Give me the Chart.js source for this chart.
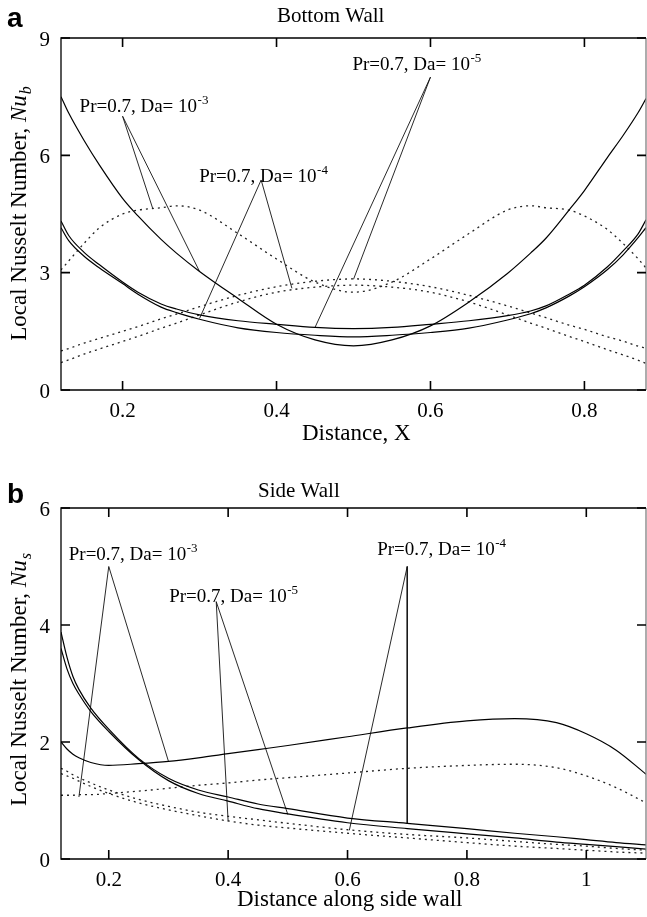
<!DOCTYPE html>
<html>
<head>
<meta charset="utf-8">
<script src="https://cdn.jsdelivr.net/npm/chart.js@4.4.1/dist/chart.umd.min.js"></script>
<style>
  html, body { margin: 0; padding: 0; background: #fff; }
  canvas { display: block; }
</style>
</head>
<body>
<canvas id="bottomWallChart" width="647" height="458"></canvas>
<canvas id="sideWallChart" width="647" height="459"></canvas>
<script>
// ---- panel a: bottom wall ----
const bottomX = [0.12, 0.13, 0.15, 0.17, 0.2, 0.22, 0.25, 0.27, 0.3, 0.35, 0.4, 0.45, 0.5,
                 0.55, 0.6, 0.65, 0.7, 0.73, 0.75, 0.78, 0.8, 0.83, 0.85, 0.87, 0.88];
const bottomDa3Solid = [7.5, 7.08, 6.38, 5.75, 4.9, 4.45, 3.85, 3.5, 3.03, 2.34, 1.68, 1.28, 1.13,
                        1.28, 1.64, 2.25, 2.98, 3.5, 3.88, 4.6, 5.1, 5.95, 6.5, 7.1, 7.45];
const bottomDa4Solid = [4.15, 3.82, 3.42, 3.12, 2.72, 2.45, 2.12, 1.98, 1.81, 1.59, 1.47, 1.4, 1.36,
                        1.4, 1.47, 1.58, 1.79, 1.95, 2.1, 2.4, 2.64, 3.08, 3.45, 3.9, 4.15];
const bottomDa5Solid = [4.32, 3.95, 3.52, 3.2, 2.76, 2.5, 2.2, 2.07, 1.92, 1.77, 1.68, 1.6, 1.57,
                        1.6, 1.68, 1.77, 1.9, 2.02, 2.15, 2.45, 2.68, 3.15, 3.55, 4.0, 4.35];
const bottomDa3Dash = [3.07, 3.3, 3.75, 4.15, 4.5, 4.6, 4.66, 4.71, 4.6, 4.0, 3.35, 2.76, 2.5,
                       2.76, 3.35, 4.0, 4.6, 4.71, 4.66, 4.6, 4.45, 4.1, 3.75, 3.35, 3.12];
const bottomDa4Dash = [0.7, 0.77, 0.92, 1.05, 1.24, 1.37, 1.58, 1.71, 1.92, 2.25, 2.5, 2.63, 2.68,
                       2.63, 2.5, 2.25, 1.92, 1.71, 1.58, 1.37, 1.24, 1.03, 0.9, 0.76, 0.68];
const bottomDa5Dash = [1.0, 1.06, 1.2, 1.32, 1.5, 1.62, 1.82, 1.94, 2.13, 2.42, 2.64, 2.78, 2.84,
                       2.78, 2.64, 2.42, 2.15, 1.97, 1.85, 1.66, 1.55, 1.36, 1.25, 1.12, 1.07];
const bottomXTicks = [0.2, 0.4, 0.6, 0.8];
const bottomYTicks = [0, 3, 6, 9];
// label leaders: end on curve, peak under the label, end on curve
const bottomLeaderDa3X = [0.239, 0.2, 0.3];
const bottomLeaderDa3Y = [4.65, 7.0, 3.03];
const bottomLeaderDa4X = [0.3, 0.38, 0.42];
const bottomLeaderDa4Y = [1.83, 5.37, 2.6];
const bottomLeaderDa5X = [0.45, 0.6, 0.5];
const bottomLeaderDa5Y = [1.6, 8.0, 2.83];

// ---- panel b: side wall ----
const sideX = [0.12, 0.13, 0.14, 0.15, 0.17, 0.2, 0.25, 0.3, 0.35, 0.4, 0.45, 0.5,
               0.6, 0.7, 0.8, 0.88, 0.95, 1.0, 1.05, 1.1];
const sideDa3Solid = [2.0, 1.88, 1.79, 1.73, 1.65, 1.6, 1.63, 1.67, 1.73, 1.8, 1.87, 1.94,
                      2.09, 2.24, 2.36, 2.4, 2.33, 2.14, 1.86, 1.45];
const sideDa4Solid = [3.88, 3.45, 3.12, 2.9, 2.58, 2.22, 1.72, 1.38, 1.18, 1.06, 0.94, 0.86,
                      0.7, 0.61, 0.52, 0.44, 0.38, 0.33, 0.28, 0.24];
const sideDa5Solid = [3.6, 3.25, 3.0, 2.82, 2.52, 2.18, 1.7, 1.34, 1.12, 0.99, 0.86, 0.77,
                      0.62, 0.52, 0.43, 0.36, 0.29, 0.25, 0.21, 0.17];
const sideDa3Dash = [1.09, 1.09, 1.09, 1.1, 1.1, 1.12, 1.16, 1.21, 1.26, 1.3, 1.35, 1.39,
                     1.47, 1.55, 1.6, 1.62, 1.56, 1.42, 1.22, 0.96];
const sideDa4Dash = [1.55, 1.5, 1.44, 1.39, 1.3, 1.18, 1.02, 0.9, 0.8, 0.73, 0.67, 0.61,
                     0.5, 0.42, 0.36, 0.3, 0.25, 0.22, 0.18, 0.15];
const sideDa5Dash = [1.46, 1.42, 1.38, 1.33, 1.24, 1.12, 0.96, 0.84, 0.74, 0.65, 0.58, 0.53,
                     0.44, 0.36, 0.28, 0.22, 0.18, 0.15, 0.12, 0.1];
const sideXTicks = [0.2, 0.4, 0.6, 0.8, 1];
const sideYTicks = [0, 2, 4, 6];
const sideLeaderDa3X = [0.15, 0.2, 0.3];
const sideLeaderDa3Y = [1.06, 5.0, 1.67];
const sideLeaderDa5X = [0.4, 0.38, 0.5];
const sideLeaderDa5Y = [0.64, 4.4, 0.76];
const sideLeaderDa4X = [0.603, 0.7, 0.7];
const sideLeaderDa4Y = [0.49, 5.0, 0.61];

const SERIF = '"Liberation Serif", "Times New Roman", serif';

function toPoints(xs, ys) {
  return xs.map(function (x, i) { return { x: x, y: ys[i] }; });
}

function curve(xs, ys, dashed) {
  return {
    data: toPoints(xs, ys),
    borderColor: dashed ? '#222' : '#000',
    borderWidth: dashed ? 1.3 : 1.2,
    borderDash: dashed ? [2, 4] : [],
    pointRadius: 0,
    cubicInterpolationMode: 'monotone',
    fill: false
  };
}

function leader(xs, ys, exponent, dx, dy) {
  return {
    data: toPoints(xs, ys),
    borderColor: '#111',
    borderWidth: 0.9,
    pointRadius: 0,
    tension: 0,
    fill: false,
    labelExp: exponent,
    labelDx: dx,
    labelDy: dy
  };
}

function drawSuperLabel(ctx, x, y, base, exp) {
  ctx.font = '19px ' + SERIF;
  ctx.textAlign = 'left';
  ctx.textBaseline = 'alphabetic';
  ctx.fillText(base, x, y);
  const w = ctx.measureText(base).width;
  ctx.font = '13px ' + SERIF;
  ctx.fillText(exp, x + w + 0.5, y - 8);
}

const paperFrame = {
  id: 'paperFrame',
  afterDraw(chart, args, opts) {
    const ctx = chart.ctx;
    const area = chart.chartArea;
    const xs = chart.scales.x;
    const ys = chart.scales.y;
    ctx.save();

    // frame
    ctx.lineWidth = 1.3;
    ctx.strokeStyle = '#000';
    ctx.beginPath();
    ctx.moveTo(area.right, area.top);
    ctx.lineTo(area.left, area.top);
    ctx.lineTo(area.left, area.bottom);
    ctx.lineTo(area.right, area.bottom);
    ctx.stroke();
    ctx.strokeStyle = '#808080';
    ctx.beginPath();
    ctx.moveTo(area.right, area.top);
    ctx.lineTo(area.right, area.bottom);
    ctx.stroke();

    // inward ticks
    ctx.strokeStyle = '#000';
    ctx.lineWidth = 1.6;
    const tl = 9;
    xs.ticks.forEach(function (t) {
      const px = xs.getPixelForValue(t.value);
      ctx.beginPath();
      ctx.moveTo(px, area.bottom); ctx.lineTo(px, area.bottom - tl);
      ctx.moveTo(px, area.top); ctx.lineTo(px, area.top + tl);
      ctx.stroke();
    });
    ys.ticks.forEach(function (t) {
      const py = ys.getPixelForValue(t.value);
      ctx.beginPath();
      ctx.moveTo(area.left, py); ctx.lineTo(area.left + tl, py);
      ctx.moveTo(area.right, py); ctx.lineTo(area.right - tl, py);
      ctx.stroke();
    });

    // tick labels
    ctx.fillStyle = '#000';
    ctx.font = '21px ' + SERIF;
    ctx.textAlign = 'center';
    ctx.textBaseline = 'alphabetic';
    xs.ticks.forEach(function (t) {
      ctx.fillText(String(t.value), xs.getPixelForValue(t.value), area.bottom + 26.5);
    });
    ctx.textAlign = 'right';
    ctx.textBaseline = 'middle';
    ys.ticks.forEach(function (t) {
      ctx.fillText(String(t.value), 50, ys.getPixelForValue(t.value) + 2);
    });

    // panel letter and title
    ctx.textBaseline = 'alphabetic';
    ctx.textAlign = 'left';
    ctx.font = 'bold 28px "Liberation Sans", Arial, sans-serif';
    ctx.fillText(opts.letter, 7, opts.letterY);
    ctx.font = '21px ' + SERIF;
    ctx.fillText(opts.title, opts.titleX, opts.titleY);

    // x title
    ctx.font = '23px ' + SERIF;
    ctx.fillText(opts.xTitle, opts.xTitleX, opts.xTitleY);

    // y title, rotated, with italic Nu and subscript
    ctx.save();
    ctx.translate(26, opts.yTitleY);
    ctx.rotate(-Math.PI / 2);
    const main = 'Local Nusselt Number, ';
    ctx.font = '23px ' + SERIF;
    const wMain = ctx.measureText(main).width;
    ctx.font = 'italic 23px ' + SERIF;
    const wNu = ctx.measureText('Nu').width;
    ctx.font = 'italic 16px ' + SERIF;
    const wSub = ctx.measureText(opts.ySub).width;
    let x0 = -(wMain + wNu + wSub) / 2;
    ctx.font = '23px ' + SERIF;
    ctx.fillText(main, x0, 0);
    ctx.font = 'italic 23px ' + SERIF;
    ctx.fillText('Nu', x0 + wMain, 0);
    ctx.font = 'italic 16px ' + SERIF;
    ctx.fillText(opts.ySub, x0 + wMain + wNu + 1, 5);
    ctx.restore();

    // curve labels, anchored on the peak of each leader
    chart.data.datasets.forEach(function (ds) {
      if (!ds.labelExp) return;
      const peak = ds.data[1];
      const px = xs.getPixelForValue(peak.x);
      const py = ys.getPixelForValue(peak.y);
      drawSuperLabel(ctx, px + ds.labelDx, py + ds.labelDy, 'Pr=0.7, Da= 10', ds.labelExp);
    });

    ctx.restore();
  }
};

function makeOptions(xMin, xMax, yMax, xTicks, yTicks, padTop, axisHeight, frame) {
  return {
    responsive: false,
    animation: false,
    devicePixelRatio: 1,
    layout: { padding: { top: padTop, right: 1, left: 0, bottom: 0 } },
    plugins: {
      legend: { display: false },
      tooltip: { enabled: false },
      paperFrame: frame
    },
    scales: {
      x: {
        type: 'linear',
        min: xMin,
        max: xMax,
        grid: { display: false },
        border: { display: false },
        ticks: { display: false },
        afterBuildTicks(scale) { scale.ticks = xTicks.map(function (v) { return { value: v }; }); },
        afterFit(scale) { scale.height = axisHeight; }
      },
      y: {
        type: 'linear',
        min: 0,
        max: yMax,
        grid: { display: false },
        border: { display: false },
        ticks: { display: false },
        afterBuildTicks(scale) { scale.ticks = yTicks.map(function (v) { return { value: v }; }); },
        afterFit(scale) { scale.width = 61; }
      }
    }
  };
}

new Chart(document.getElementById('bottomWallChart'), {
  type: 'line',
  plugins: [paperFrame],
  data: {
    datasets: [
      curve(bottomX, bottomDa3Solid, false),
      curve(bottomX, bottomDa4Solid, false),
      curve(bottomX, bottomDa5Solid, false),
      curve(bottomX, bottomDa3Dash, true),
      curve(bottomX, bottomDa4Dash, true),
      curve(bottomX, bottomDa5Dash, true),
      leader(bottomLeaderDa3X, bottomLeaderDa3Y, '-3', -43, -4),
      leader(bottomLeaderDa4X, bottomLeaderDa4Y, '-4', -62, 2),
      leader(bottomLeaderDa5X, bottomLeaderDa5Y, '-5', -78, -7)
    ]
  },
  options: makeOptions(0.12, 0.88, 9, bottomXTicks, bottomYTicks, 38, 68, {
    letter: 'a', letterY: 27,
    title: 'Bottom Wall', titleX: 277, titleY: 22,
    xTitle: 'Distance, X', xTitleX: 302, xTitleY: 440,
    yTitleY: 214, ySub: 'b'
  })
});

new Chart(document.getElementById('sideWallChart'), {
  type: 'line',
  plugins: [paperFrame],
  data: {
    datasets: [
      curve(sideX, sideDa3Solid, false),
      curve(sideX, sideDa4Solid, false),
      curve(sideX, sideDa5Solid, false),
      curve(sideX, sideDa3Dash, true),
      curve(sideX, sideDa4Dash, true),
      curve(sideX, sideDa5Dash, true),
      leader(sideLeaderDa3X, sideLeaderDa3Y, '-3', -40, -7),
      leader(sideLeaderDa5X, sideLeaderDa5Y, '-5', -47, 0),
      leader(sideLeaderDa4X, sideLeaderDa4Y, '-4', -30, -12)
    ]
  },
  options: makeOptions(0.12, 1.1, 6, sideXTicks, sideYTicks, 50, 58, {
    letter: 'b', letterY: 45,
    title: 'Side Wall', titleX: 258, titleY: 39,
    xTitle: 'Distance along side wall', xTitleX: 237, xTitleY: 448,
    yTitleY: 222, ySub: 's'
  })
});
</script>
</body>
</html>
